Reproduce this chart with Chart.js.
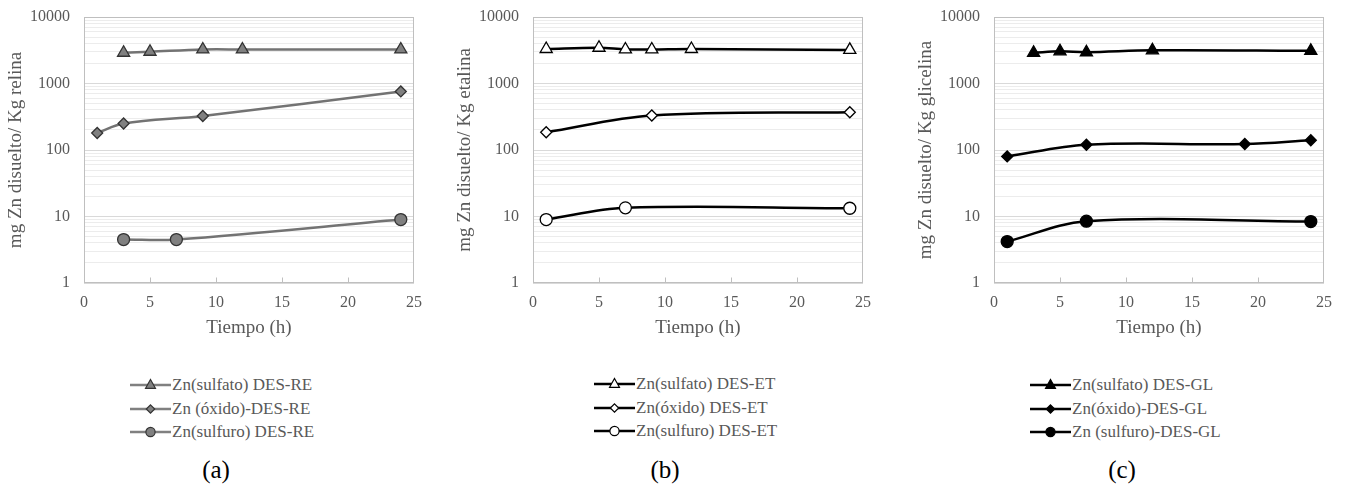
<!DOCTYPE html>
<html><head><meta charset="utf-8">
<script src="https://cdn.jsdelivr.net/npm/chart.js@4.4.1/dist/chart.umd.min.js"></script>
<style>
body{margin:0;background:#fff;width:1346px;height:486px;overflow:hidden;position:relative;font-family:"Liberation Serif","Times New Roman",serif;}
.panel{position:absolute;top:0;width:430px;height:343px;}
.panel canvas{display:block;}
.leg{position:absolute;color:#595959;font-size:17px;}
.row{position:absolute;left:0;white-space:nowrap;height:22px;line-height:22px;display:flex;align-items:center;}
.row svg{margin-right:1px;}
.cap{position:absolute;font-size:25px;color:#000;transform:translateX(-50%);}
</style></head>
<body>
<div class="panel" style="left:0px"><canvas id="ca" width="430" height="343"></canvas></div>
<div class="panel" style="left:449px"><canvas id="cb" width="430" height="343"></canvas></div>
<div class="panel" style="left:910px"><canvas id="cc" width="430" height="343"></canvas></div>
<div class="leg" id="la" style="left:130px;top:374px"></div>
<div class="leg" id="lb" style="left:594px;top:373px"></div>
<div class="leg" id="lc" style="left:1030px;top:374px"></div>
<div class="cap" style="left:216px;top:456px">(a)</div>
<div class="cap" style="left:665px;top:456px">(b)</div>
<div class="cap" style="left:1122px;top:456px">(c)</div>
<script>
// ---- data ----
const xTicks = [0, 5, 10, 15, 20, 25];
const yTickLabels = ['1', '10', '100', '1000', '10000'];

const aSulfatoX = [3, 5, 9, 12, 24];
const aSulfatoY = [2900, 3000, 3250, 3250, 3250];
const aOxidoX = [1, 3, 9, 24];
const aOxidoY = [180, 250, 325, 760];
const aSulfuroX = [3, 7, 24];
const aSulfuroY = [4.5, 4.5, 9.0];

const bSulfatoX = [1, 5, 7, 9, 12, 24];
const bSulfatoY = [3300, 3450, 3250, 3250, 3300, 3200];
const bOxidoX = [1, 9, 24];
const bOxidoY = [185, 330, 370];
const bSulfuroX = [1, 7, 24];
const bSulfuroY = [9.0, 13.5, 13.3];

const cSulfatoX = [3, 5, 7, 12, 24];
const cSulfatoY = [2900, 3050, 2950, 3150, 3100];
const cOxidoX = [1, 7, 19, 24];
const cOxidoY = [80, 120, 123, 140];
const cSulfuroX = [1, 7, 24];
const cSulfuroY = [4.2, 8.5, 8.4];

const labelsA = ['Zn(sulfato) DES-RE', 'Zn (óxido)-DES-RE', 'Zn(sulfuro) DES-RE'];
const labelsB = ['Zn(sulfato) DES-ET', 'Zn(óxido) DES-ET', 'Zn(sulfuro) DES-ET'];
const labelsC = ['Zn(sulfato) DES-GL', 'Zn(óxido)-DES-GL', 'Zn (sulfuro)-DES-GL'];
const yTitles = ['mg Zn disuelto/ Kg relina', 'mg Zn disuelto/ Kg etalina', 'mg Zn disuelto/ Kg glicelina'];
const xTitle = 'Tiempo (h)';

// ---- styles ----
const FONT = "'Liberation Serif', 'Times New Roman', serif";
const TXT = '#595959';
const styles = {
  a: {line: '#737373', fill: '#808080', border: '#333333', legLine: '#808080'},
  b: {line: '#000000', fill: '#ffffff', border: '#000000', legLine: '#000000'},
  c: {line: '#000000', fill: '#000000', border: '#000000', legLine: '#000000'}
};
const shapes = [
  {ps: 'triangle', r: 7},
  {ps: 'rectRot', r: 5.5},
  {ps: 'circle', r: 6}
];

function pts(xs, ys) { return xs.map((x, i) => ({x: x, y: ys[i]})); }
function isDecade(v) { const l = Math.log10(v); return Math.abs(l - Math.round(l)) < 1e-9; }

const framePlugin = {
  id: 'frame',
  beforeDatasetsDraw(chart) {
    const {ctx, chartArea: a, scales} = chart;
    ctx.save();
    ctx.strokeStyle = '#bfbfbf';
    ctx.lineWidth = 1;
    const l = Math.round(a.left) + 0.5, r = Math.round(a.right) - 0.5;
    const t = Math.round(a.top) + 0.5, b = Math.round(a.bottom) - 0.5;
    ctx.strokeRect(l, t, r - l, b - t);
    ctx.beginPath();
    xTicks.forEach(v => {
      if (v === xTicks[0] || v === xTicks[xTicks.length - 1]) return;
      const px = Math.round(scales.x.getPixelForValue(v)) + 0.5;
      ctx.moveTo(px, b); ctx.lineTo(px, b - 5);
    });
    ctx.stroke();
    ctx.restore();
  }
};

function makeChart(id, series, yTitle, st) {
  const datasets = series.map((s, i) => ({
    label: s.label,
    data: pts(s.x, s.y),
    borderColor: st.line,
    borderWidth: 2.5,
    backgroundColor: st.fill,
    pointBackgroundColor: st.fill,
    pointBorderColor: st.border,
    pointBorderWidth: 1.3,
    pointStyle: shapes[i].ps,
    pointRadius: shapes[i].r,
    pointHoverRadius: shapes[i].r,
    tension: 0.35,
    fill: false
  }));
  return new Chart(document.getElementById(id), {
    type: 'line',
    data: {datasets},
    options: {
      responsive: false,
      animation: false,
      devicePixelRatio: 1,
      layout: {padding: {top: 17, right: 16, left: 0, bottom: 0}},
      plugins: {legend: {display: false}, tooltip: {enabled: false}},
      scales: {
        x: {
          type: 'linear', min: 0, max: 25,
          afterBuildTicks: sc => { sc.ticks = xTicks.map(v => ({value: v})); },
          afterFit: sc => { sc.height = 60; sc.paddingLeft = 0; sc.paddingRight = 0; },
          grid: {display: false, drawTicks: false},
          border: {display: false},
          ticks: {color: TXT, font: {family: FONT, size: 16}, padding: 10, maxRotation: 0},
          title: {display: true, text: xTitle, color: TXT, font: {family: FONT, size: 19}, padding: {top: 0, bottom: 4}}
        },
        y: {
          type: 'logarithmic', min: 1, max: 10000,
          afterBuildTicks: sc => {
            const t = [];
            for (let e = 0; e < yTickLabels.length - 1; e++) {
              for (let k = 1; k < 10; k++) t.push({value: k * Math.pow(10, e)});
            }
            t.push({value: Math.pow(10, yTickLabels.length - 1)});
            sc.ticks = t;
          },
          afterFit: sc => { sc.width = 84; sc.paddingTop = 0; sc.paddingBottom = 0; },
          grid: {
            drawTicks: false,
            color: c => (c.tick && isDecade(c.tick.value)) ? '#d9d9d9' : '#ececec',
            lineWidth: 1
          },
          border: {display: false},
          ticks: {
            autoSkip: false, padding: 14, color: TXT, font: {family: FONT, size: 16},
            callback: v => {
              const idx = Math.round(Math.log10(v));
              return isDecade(v) ? yTickLabels[idx] : '';
            }
          },
          title: {display: true, text: yTitle, color: TXT, font: {family: FONT, size: 19}, padding: {top: 5, bottom: 0}}
        }
      }
    },
    plugins: [framePlugin]
  });
}

makeChart('ca', [
  {label: labelsA[0], x: aSulfatoX, y: aSulfatoY},
  {label: labelsA[1], x: aOxidoX, y: aOxidoY},
  {label: labelsA[2], x: aSulfuroX, y: aSulfuroY}
], yTitles[0], styles.a);
makeChart('cb', [
  {label: labelsB[0], x: bSulfatoX, y: bSulfatoY},
  {label: labelsB[1], x: bOxidoX, y: bOxidoY},
  {label: labelsB[2], x: bSulfuroX, y: bSulfuroY}
], yTitles[1], styles.b);
makeChart('cc', [
  {label: labelsC[0], x: cSulfatoX, y: cSulfatoY},
  {label: labelsC[1], x: cOxidoX, y: cOxidoY},
  {label: labelsC[2], x: cSulfuroX, y: cSulfuroY}
], yTitles[2], styles.c);

// ---- legends ----
function icon(i, st) {
  const w = 41, h = 16, cx = 20.5, cy = 8;
  let m = '';
  if (i === 0) {
    const r = 5.5;
    m = `<polygon points="${cx},${cy - r} ${cx + r * 0.9},${cy + r * 0.6} ${cx - r * 0.9},${cy + r * 0.6}" fill="${st.fill}" stroke="${st.border}" stroke-width="1.2"/>`;
  } else if (i === 1) {
    const r = 4.2;
    m = `<polygon points="${cx},${cy - r} ${cx + r},${cy} ${cx},${cy + r} ${cx - r},${cy}" fill="${st.fill}" stroke="${st.border}" stroke-width="1.2"/>`;
  } else {
    m = `<circle cx="${cx}" cy="${cy}" r="4.6" fill="${st.fill}" stroke="${st.border}" stroke-width="1.2"/>`;
  }
  return `<svg width="${w}" height="${h}"><line x1="0" y1="${cy}" x2="${w}" y2="${cy}" stroke="${st.legLine}" stroke-width="2.5"/>${m}</svg>`;
}
function legend(id, labels, st) {
  const el = document.getElementById(id);
  labels.forEach((lab, i) => {
    const d = document.createElement('div');
    d.className = 'row';
    d.style.top = (i * 23.5) + 'px';
    d.innerHTML = icon(i, st) + '<span>' + lab + '</span>';
    el.appendChild(d);
  });
}
legend('la', labelsA, styles.a);
legend('lb', labelsB, styles.b);
legend('lc', labelsC, styles.c);
</script>
</body></html>
